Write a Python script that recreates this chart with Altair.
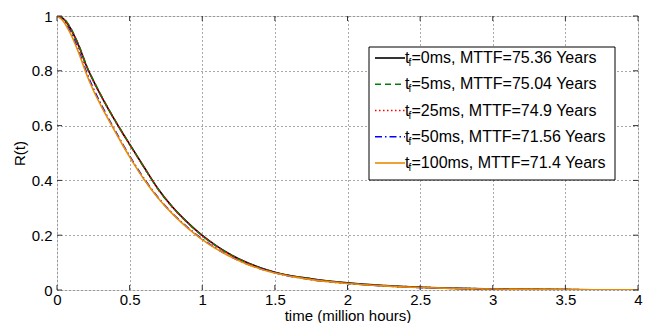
import altair as alt
import pandas as pd

# ---------------- data ----------------
t = [0, 0.025, 0.05, 0.075, 0.1, 0.125, 0.15, 0.175, 0.2, 0.25, 0.3, 0.35, 0.4, 0.45, 0.5, 0.6, 0.7, 0.8, 0.9,
     1.0, 1.1, 1.2, 1.3, 1.4, 1.5, 1.75, 2.0, 2.25, 2.5, 2.75, 3.0, 3.5, 4.0]

r_0ms = [1.0, 0.997, 0.987, 0.970, 0.948, 0.921, 0.891, 0.857, 0.821, 0.764, 0.712, 0.664, 0.618, 0.574, 0.532,
         0.448, 0.366, 0.300, 0.246,
         0.199, 0.160, 0.128, 0.102, 0.081, 0.065, 0.041, 0.026, 0.016, 0.010, 0.006, 0.004, 0.0015, 0.0005]
r_5ms = [1.0, 0.998, 0.989, 0.972, 0.950, 0.923, 0.893, 0.859, 0.823, 0.766, 0.714, 0.665, 0.619, 0.575, 0.532,
         0.447, 0.365, 0.299, 0.245,
         0.198, 0.159, 0.127, 0.101, 0.080, 0.064, 0.040, 0.025, 0.016, 0.010, 0.006, 0.004, 0.0015, 0.0005]
r_25ms = [1.0, 0.997, 0.986, 0.969, 0.947, 0.920, 0.890, 0.856, 0.820, 0.763, 0.711, 0.663, 0.617, 0.573, 0.531,
          0.447, 0.365, 0.299, 0.245,
          0.198, 0.159, 0.127, 0.101, 0.080, 0.064, 0.040, 0.025, 0.016, 0.010, 0.006, 0.004, 0.0015, 0.0005]
r_50ms = [1.0, 0.993, 0.980, 0.959, 0.934, 0.905, 0.872, 0.836, 0.799, 0.736, 0.681, 0.630, 0.582, 0.534, 0.489,
          0.406, 0.335, 0.277, 0.228,
          0.186, 0.150, 0.121, 0.097, 0.078, 0.063, 0.038, 0.024, 0.015, 0.009, 0.0055, 0.0035, 0.0013, 0.0005]
r_100ms = [1.0, 0.991, 0.976, 0.954, 0.928, 0.898, 0.865, 0.829, 0.792, 0.729, 0.676, 0.626, 0.578, 0.531, 0.486,
           0.403, 0.333, 0.275, 0.226,
           0.184, 0.149, 0.120, 0.096, 0.077, 0.062, 0.038, 0.024, 0.015, 0.009, 0.0055, 0.0035, 0.0013, 0.0005]

series_tf = ["0ms", "5ms", "25ms", "50ms", "100ms"]
series_mttf = ["75.36", "75.04", "74.9", "71.56", "71.4"]
series_values = [r_0ms, r_5ms, r_25ms, r_50ms, r_100ms]

x_ticks = [0, 0.5, 1, 1.5, 2, 2.5, 3, 3.5, 4]
y_ticks = [0, 0.2, 0.4, 0.6, 0.8, 1]

# ---------------- styles ----------------
colors = ["#000000", "#008000", "#FF0000", "#0000FF", "#EE8A00"]
dashes = [None, [6, 4], [1.5, 2.5], [7, 3, 1.5, 3], None]

W, H = 581, 274
FONT = "Liberation Sans"

x_scale = alt.Scale(domain=[0, 4], nice=False, zero=False)
y_scale = alt.Scale(domain=[0, 1], nice=False)

x_axis = alt.Axis(values=x_ticks, format="~g", title="time (million hours)", grid=True,
                  gridDash=[1, 3], gridColor="#555555", gridOpacity=1, gridWidth=1,
                  ticks=False, domain=False, labelFontSize=15, labelFont=FONT,
                  labelColor="black", labelPadding=2, labelFlush=False, labelOverlap=False,
                  titleFont=FONT, titleFontSize=15, titleFontWeight="normal",
                  titleColor="black", titlePadding=1, zindex=0)
y_axis = alt.Axis(values=y_ticks, format="~g", title="R(t)", grid=True,
                  gridDash=[1, 3], gridColor="#555555", gridOpacity=1, gridWidth=1,
                  ticks=False, domain=False, labelFontSize=15, labelFont=FONT,
                  labelColor="black", labelPadding=5, labelFlush=False, labelOverlap=False,
                  titleFont=FONT, titleFontSize=15, titleFontWeight="normal",
                  titleColor="black", titlePadding=4, zindex=0)


def X(field="t"):
    return alt.X(f"{field}:Q", scale=x_scale, axis=x_axis)


def Y(field="R"):
    return alt.Y(f"{field}:Q", scale=y_scale, axis=y_axis)


layers = []

# curves
for name, vals, col, dash in zip(series_tf, series_values, colors, dashes):
    df = pd.DataFrame({"t": t, "R": vals})
    kw = dict(color=col, strokeWidth=1.6, interpolate="monotone", clip=True)
    if dash is not None:
        kw["strokeDash"] = dash
    layers.append(alt.Chart(df).mark_line(**kw).encode(x=X(), y=Y()))

# inward ticks on all four sides
tick_col = "#333333"
xt = pd.DataFrame({"t": x_ticks})
yt = pd.DataFrame({"R": y_ticks})
layers.append(alt.Chart(xt).mark_rule(color=tick_col, strokeWidth=1).encode(
    x=X(), y=alt.value(H), y2=alt.value(H - 5)))
layers.append(alt.Chart(xt).mark_rule(color=tick_col, strokeWidth=1).encode(
    x=X(), y=alt.value(0), y2=alt.value(5)))
layers.append(alt.Chart(yt).mark_rule(color=tick_col, strokeWidth=1).encode(
    y=Y(), x=alt.value(0), x2=alt.value(5)))
layers.append(alt.Chart(yt).mark_rule(color=tick_col, strokeWidth=1).encode(
    y=Y(), x=alt.value(W), x2=alt.value(W - 5)))

# ---------------- manual legend (layout in plot pixels -> data units) ----------------
def px_t(px):
    return px * 4.0 / W


def px_r(py):
    return 1.0 - py / H


box = pd.DataFrame({"t": [px_t(312)], "t2": [px_t(558)], "R": [px_r(31)], "R2": [px_r(164)]})
layers.append(alt.Chart(box).mark_rect(fill="white", stroke="black", strokeWidth=1).encode(
    x=X(), x2="t2:Q", y=Y(), y2="R2:Q"))

row_py = [42 + i * 26.25 for i in range(5)]
for i, (name, mt, col, dash) in enumerate(zip(series_tf, series_mttf, colors, dashes)):
    ry = px_r(row_py[i])
    ldf = pd.DataFrame({"t": [px_t(318)], "t2": [px_t(348)], "R": [ry], "R2": [ry]})
    kw = dict(color=col, strokeWidth=1.6)
    if dash is not None:
        kw["strokeDash"] = dash
    layers.append(alt.Chart(ldf).mark_rule(**kw).encode(x=X(), x2="t2:Q", y=Y(), y2="R2:Q"))
    tdf = pd.DataFrame({"t": [px_t(348)], "R": [ry],
                        "a": ["t"], "b": ["f"], "c": [f"={name}, MTTF={mt} Years"]})
    base = alt.Chart(tdf)
    layers.append(base.mark_text(align="left", baseline="middle", font=FONT, fontSize=16,
                                 color="black").encode(x=X(), y=Y(), text="a:N"))
    layers.append(base.mark_text(align="left", baseline="middle", font=FONT, fontSize=10,
                                 color="black", dx=3.5, dy=5).encode(x=X(), y=Y(), text="b:N"))
    layers.append(base.mark_text(align="left", baseline="middle", font=FONT, fontSize=16,
                                 color="black", dx=6.5).encode(x=X(), y=Y(), text="c:N"))

chart = alt.layer(*layers).properties(
    width=W, height=H,
    autosize=alt.AutoSizeParams(type="none"),
    padding={"left": 49, "top": 8, "right": 5, "bottom": 33},
).configure_view(stroke="#808080", strokeWidth=2).configure(background="white")

chart.save("out.html", embed_options={"renderer": "svg", "actions": False})
